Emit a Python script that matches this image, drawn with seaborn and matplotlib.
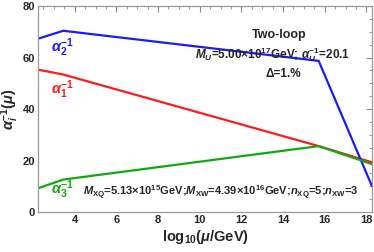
import numpy as np
import pandas as pd
import matplotlib
matplotlib.use("Agg")
import matplotlib.pyplot as plt
import seaborn as sns
from matplotlib.ticker import MultipleLocator

sns.set_style("white")
plt.rcParams['font.family'] = ['Liberation Sans', 'DejaVu Sans']
plt.rcParams['font.weight'] = 'bold'
plt.rcParams['mathtext.fontset'] = 'custom'
plt.rcParams['mathtext.rm'] = 'Liberation Sans:bold'
plt.rcParams['mathtext.it'] = 'Liberation Sans:italic:bold'
plt.rcParams['mathtext.bf'] = 'Liberation Sans:bold'

# running couplings
x_a1 = [2.24, 3.45, 15.71, 18.27]
y_a1 = [55.3, 53.4, 25.6, 19.3]
x_a2 = [2.24, 3.45, 15.71, 18.27]
y_a2 = [67.3, 70.4, 58.7, 10.0]
x_a3 = [2.24, 3.45, 15.71, 18.27]
y_a3 = [9.2, 12.6, 25.6, 18.6]

series = [r"$\alpha_1^{-1}$", r"$\alpha_2^{-1}$", r"$\alpha_3^{-1}$"]
colors = ["#ff1a1a", "#1a1aff", "#10a810"]

df = pd.concat([
    pd.DataFrame({"x": x_a1, "y": y_a1, "s": series[0]}),
    pd.DataFrame({"x": x_a2, "y": y_a2, "s": series[1]}),
    pd.DataFrame({"x": x_a3, "y": y_a3, "s": series[2]}),
])

fig = plt.figure(figsize=(3.74, 2.52), dpi=100)
ax = fig.add_axes([0.1016, 0.1587, 0.8931, 0.8173])
sns.lineplot(data=df, x="x", y="y", hue="s", palette=colors, sort=False,
             linewidth=1.6, legend=False, ax=ax, estimator=None)

ax.set_xlim(2.24, 18.27)
ax.set_ylim(0, 80)
ax.xaxis.set_major_locator(MultipleLocator(2))
ax.xaxis.set_minor_locator(MultipleLocator(0.5))
ax.yaxis.set_major_locator(MultipleLocator(20))
ax.yaxis.set_minor_locator(MultipleLocator(5))
ax.tick_params(which='both', direction='in', top=True, right=True,
               labeltop=False, labelright=False, color='#888888')
ax.tick_params(which='major', length=4, width=0.8, labelsize=8, pad=2)
ax.tick_params(which='minor', length=2, width=0.6)
for sp in ax.spines.values():
    sp.set_color('#999999')
    sp.set_linewidth(0.9)

ax.set_xlabel(r"log$_{10}$($\mu$/GeV)", fontsize=10.5, fontweight='bold', labelpad=2)
ax.set_ylabel(r"$\alpha_i^{-1}$($\mu$)", fontsize=10.5, fontweight='bold', labelpad=1)

ax.text(2.85, 64, series[1], color=colors[1], fontsize=10.5, va='center')
ax.text(2.85, 47.5, series[0], color=colors[0], fontsize=10.5, va='center')
ax.text(2.85, 8.5, series[2], color=colors[2], fontsize=10.5, va='center')

ax.text(13.8, 68.8, "Two-loop", fontsize=9, ha='center', va='center')
ax.text(13.5, 61.2, r"$M_U$=5.00×10$^{17}$GeV; $\alpha_U^{-1}$=20.1",
        fontsize=8.5, ha='center', va='center')
ax.text(14.0, 53.5, "Δ=1.%", fontsize=8.5, ha='center', va='center')
ax.text(11.0, 7.3, r"$M_{\rm XQ}$=5.13×10$^{15}$GeV;$M_{\rm XW}$=4.39×10$^{16}$GeV;"
        r"$n_{\rm XQ}$=5;$n_{\rm XW}$=3", fontsize=8, ha='center', va='center')

fig.savefig("out.png", dpi=100)
